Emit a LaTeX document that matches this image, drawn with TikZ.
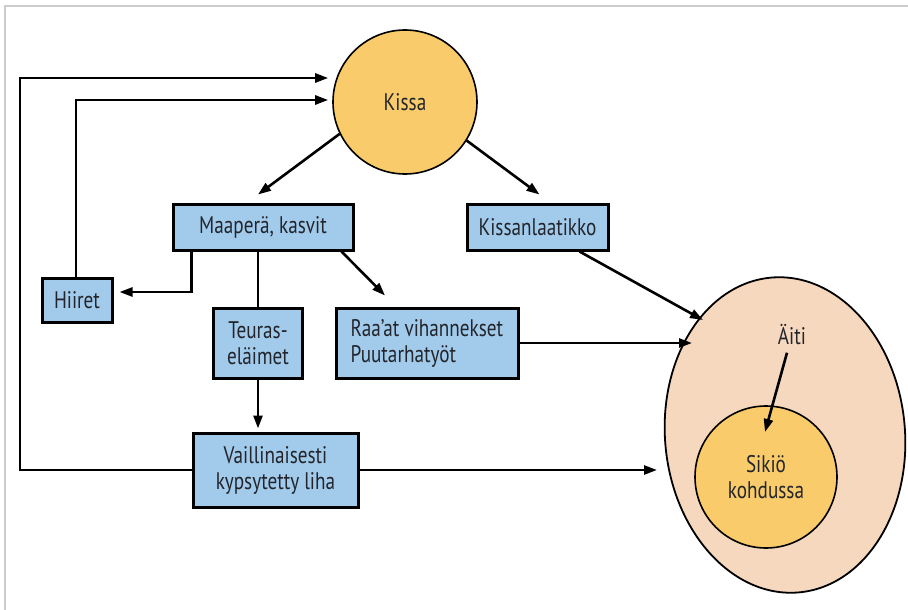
\documentclass[tikz,border=0pt]{standalone}
\usepackage{fontspec}
\setmainfont{PT Sans}[FakeStretch=0.8]
\usetikzlibrary{calc,arrows.meta,shapes.geometric}
\definecolor{boxblue}{HTML}{A2CAEA}
\definecolor{catyellow}{HTML}{F9CB6A}
\definecolor{peach}{HTML}{F5D8BE}
\definecolor{txt}{HTML}{22252B}
\definecolor{frame}{HTML}{CCCCCC}
\tikzset{
  every node/.style={font=\fontsize{24}{26}\selectfont, text=txt},
  srcbox/.style={draw=black, line width=3pt, fill=boxblue, rectangle, inner sep=0pt, align=center},
  bluecircle/.style={draw=black, line width=1.6pt, circle, inner sep=0pt, align=center},
  conn/.style={draw=black, line width=2.6pt},
  arr/.style={conn, -{Triangle[length=13pt,width=9pt]}},
}
\begin{document}
\begin{tikzpicture}[x=1pt,y=-1pt]
\useasboundingbox (0,0) rectangle (908,610);
\fill[white] (0,0) rectangle (908,610);
\draw[frame, line width=2.2pt] (5,610) -- (5,6) -- (908,6);

% nodes
\node[bluecircle, fill=catyellow, minimum size=144pt] (kissa) at (405,102) {Kissa};
\node[srcbox, minimum width=180pt, minimum height=46pt] (maa) at (263,227) {Maaperä, kasvit};
\node[srcbox, minimum width=141pt, minimum height=46pt] (laat) at (537.5,227) {Kissanlaatikko};
\node[srcbox, minimum width=70pt, minimum height=44pt] (hiir) at (77,300) {Hiiret};
\node[srcbox, minimum width=89pt, minimum height=70pt] (teur) at (258,343) {Teuras-\\eläimet};
\node[srcbox, minimum width=182pt, minimum height=70pt, align=left] (raa) at (427,343) {Raa’at vihannekset\\Puutarhatyöt};
\node[srcbox, minimum width=165pt, minimum height=74pt] (vail) at (275.5,470) {Vaillinaisesti\\kypsytetty liha};
\node[draw=black, line width=1.8pt, ellipse, fill=peach, minimum width=240pt, minimum height=316pt, rotate=5] (aiti) at (785,435) {};
\node (aitilbl) at (792,335) {Äiti};
\node[bluecircle, fill=catyellow, minimum size=142pt] (sik) at (766,477) {Sikiö\\kohdussa};

% connectors
\draw[arr] (kissa.206) -- ($(maa.north)+(-5,-8)$);
\draw[arr] (kissa.328) -- ($(laat.north)+(2,-8)$);
\draw[arr] ($(maa.south west)+(20,0)$) |- ($(hiir.east)+(6,-8)$);
\draw[conn] (teur.north) -- (teur.north |- maa.south);
\draw[arr] ($(maa.south east)+(-13,0)$) -- ($(raa.north)+(-42,-11)$);
\draw[arr, shorten >=3pt] (teur.south) -- (teur.south |- vail.north);
\draw[arr] (vail.west) -| (20,78) -- ($(kissa.west)+(-4,-24)$);
\draw[arr] ($(hiir.north)+(-1,0)$) |- ($(kissa.west)+(-4,-2)$);
\draw[arr] (vail.east) -- (657,470);
\draw[arr] (raa.east) -- (692,343);
\draw[arr] ($(laat.south)+(42,0)$) -- (703,320);
\draw[arr] ($(aitilbl.south)+(-5,4)$) -- (765,432);
\end{tikzpicture}
\end{document}
